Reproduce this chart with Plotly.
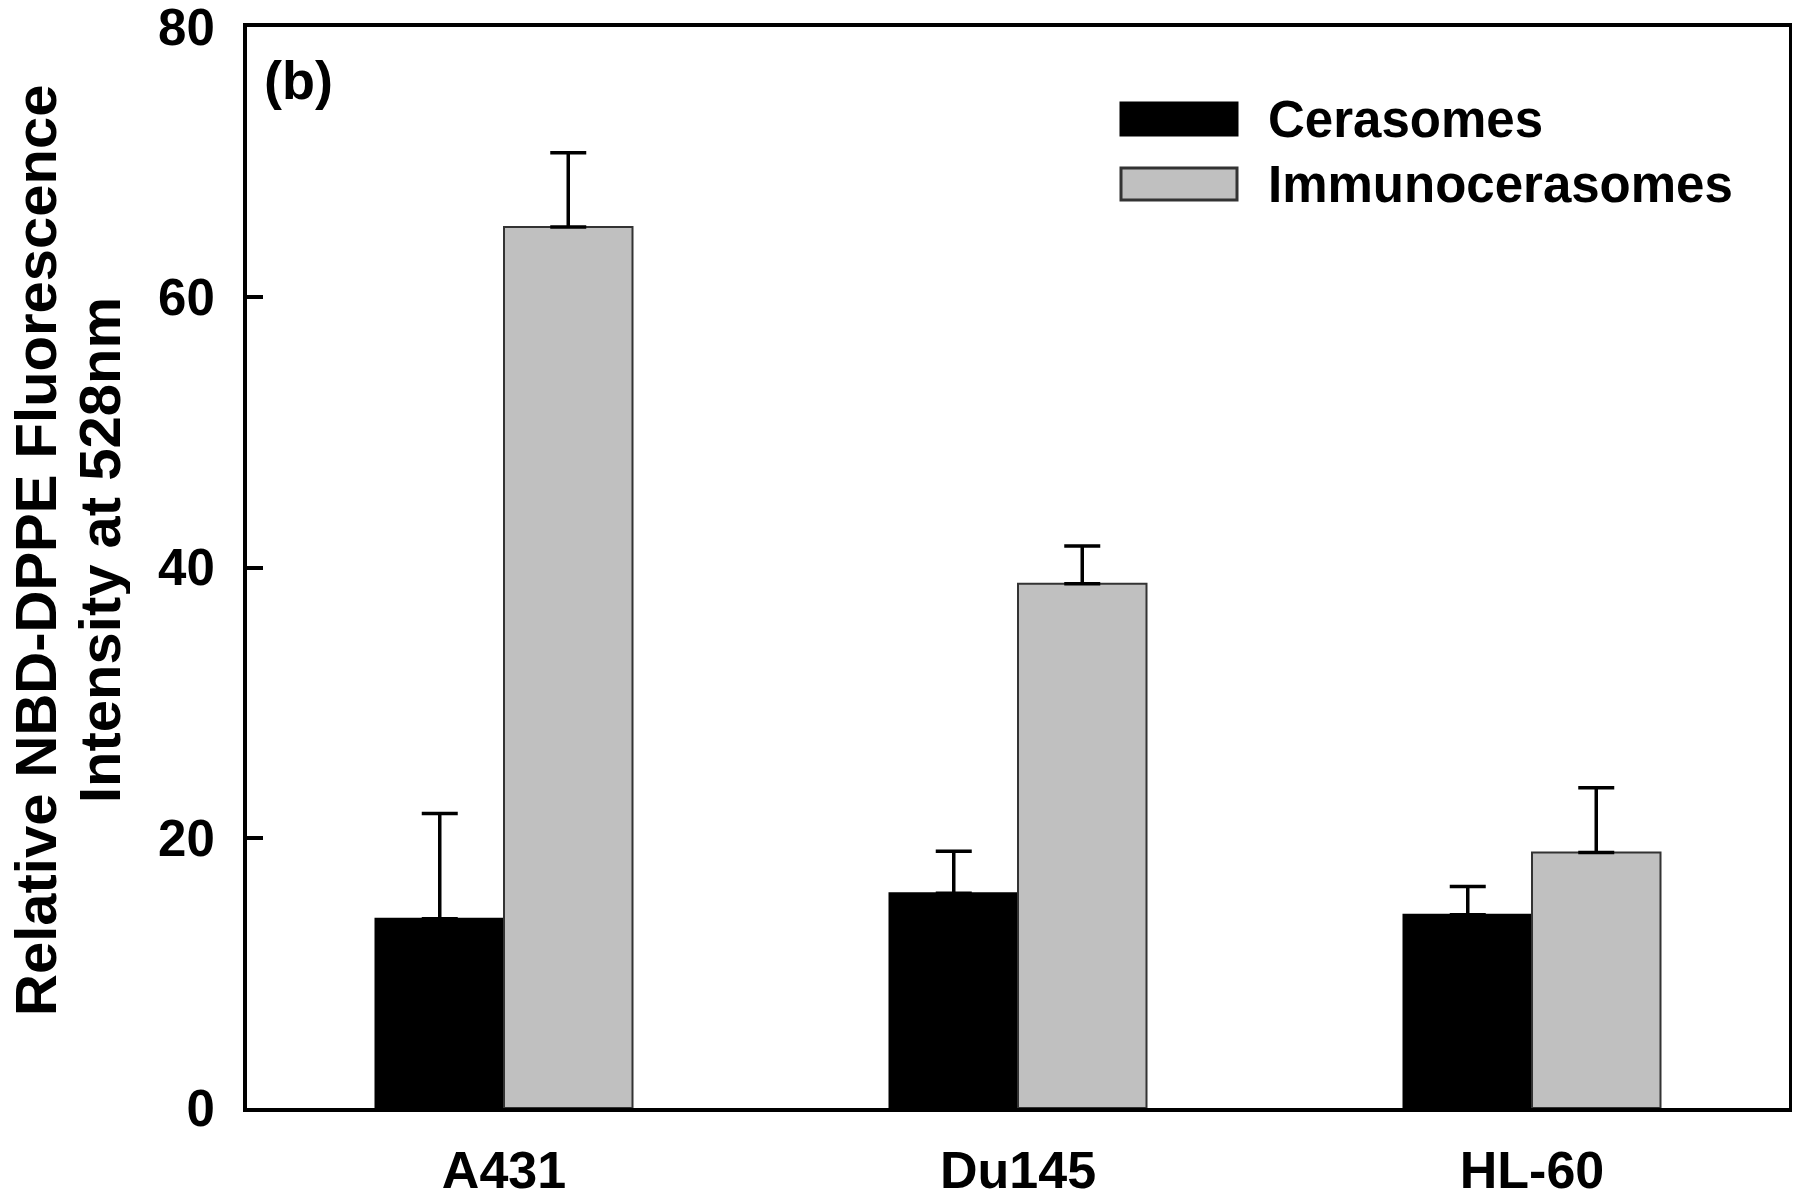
import plotly.graph_objects as go

categories = ["A431", "Du145", "HL-60"]
series_names = ["Cerasomes", "Immunocerasomes"]
cerasomes = [14.0, 15.9, 14.3]
cerasomes_err = [7.8, 3.1, 2.1]
immuno = [65.2, 38.8, 18.9]
immuno_err = [5.5, 2.8, 4.8]
y_ticks = [0, 20, 40, 60, 80]
colors = ["#000000", "#c0c0c0"]
outline_colors = ["#000000", "#333333"]

FONT = "Liberation Sans, Arial, sans-serif"

fig = go.Figure()
for name, vals, errs, col, oc in [
    (series_names[0], cerasomes, cerasomes_err, colors[0], outline_colors[0]),
    (series_names[1], immuno, immuno_err, colors[1], outline_colors[1]),
]:
    fig.add_trace(go.Bar(
        x=categories, y=vals, name=name,
        marker=dict(color=col, line=dict(color=oc, width=2)),
        error_y=dict(type="data", array=errs, arrayminus=[0] * len(errs),
                     symmetric=False, color="#000000", thickness=3.5, width=18),
        showlegend=False,
    ))

# page geometry (the browser puts an 8px body margin around the figure)
OFF = 8
PAGE_W, PAGE_H = 1800, 1203
W, H = PAGE_W - OFF, PAGE_H - OFF
PL, PR, PT, PB = 247, 1789, 27, 1108   # plot area in page pixels
pw, ph = PR - PL, PB - PT


def px(x):
    return (x - PL) / pw


def py(y):
    return (PB - y) / ph


# legend drawn as swatches + text
legend_rows = [(103, 135, 119), (168, 200, 184)]
for (y0, y1, yc), name, col, oc in zip(legend_rows, series_names, colors, outline_colors):
    fig.add_shape(type="rect", xref="paper", yref="paper",
                  x0=px(1121), x1=px(1237), y0=py(y1), y1=py(y0),
                  fillcolor=col, line=dict(color=oc, width=3))
    fig.add_annotation(xref="paper", yref="paper", x=px(1266), y=py(yc),
                       text="<b>" + name + "</b>", showarrow=False,
                       xanchor="left", yanchor="middle",
                       font=dict(family=FONT, size=51, color="#000000"))

fig.add_annotation(xref="paper", yref="paper", x=px(262), y=py(80),
                   text="<b>(b)</b>", showarrow=False, xanchor="left", yanchor="middle",
                   font=dict(family=FONT, size=54, color="#000000"))

title_lines = ["Relative NBD-DPPE Fluorescence", "Intensity at 528nm"]
for line, xc in zip(title_lines, [35, 99]):
    fig.add_annotation(xref="paper", yref="paper", x=px(xc), y=py(550),
                       text="<b>" + line + "</b>", height=62,
                       showarrow=False, textangle=-90, xanchor="center", yanchor="middle",
                       font=dict(family=FONT, size=58, color="#000000"))

fig.update_layout(
    width=W, height=H,
    margin=dict(l=PL - OFF, r=PAGE_W - PR, t=PT - OFF, b=PAGE_H - PB, pad=0,
                autoexpand=False),
    paper_bgcolor="white", plot_bgcolor="white",
    barmode="group", bargap=0.5, bargroupgap=0,
    font=dict(family=FONT, color="#000000"),
)
fig.update_xaxes(
    range=[-0.5, 2.5], showline=True, linecolor="black", linewidth=4, mirror=True,
    ticks="", showgrid=False, zeroline=False, automargin=False,
    tickfont=dict(family=FONT, size=52, color="black", weight="bold"),
    ticklabelstandoff=14,
)
fig.update_yaxes(
    range=[0, 80], tickvals=y_ticks, showline=True, linecolor="black", linewidth=4,
    mirror=True, ticks="inside", ticklen=16, tickwidth=4, tickcolor="black",
    showgrid=False, zeroline=False, ticklabeloverflow="allow", automargin=False,
    tickfont=dict(family=FONT, size=51, color="black", weight="bold"),
    ticklabelstandoff=18,
)

fig.write_html("out.html")
